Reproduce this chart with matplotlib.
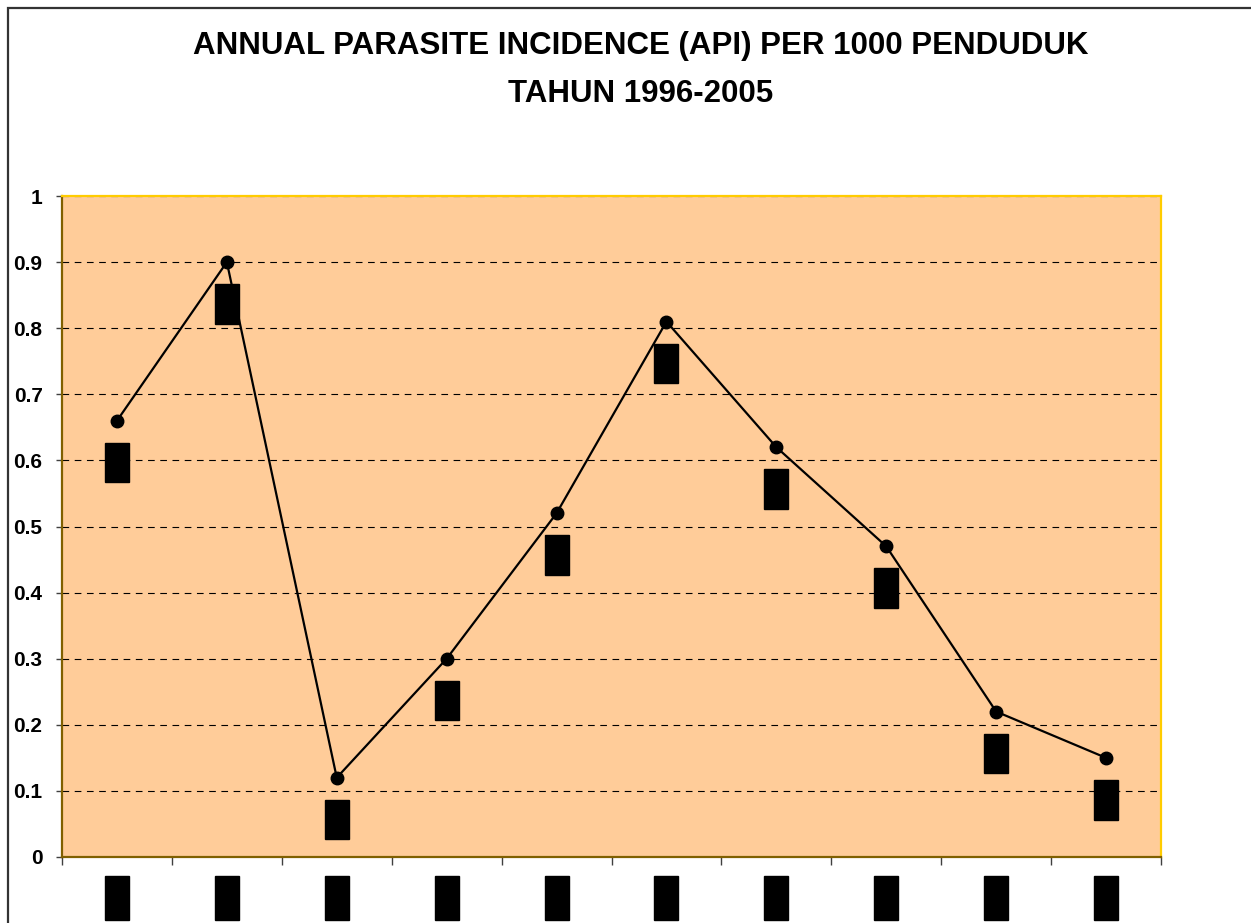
import matplotlib
matplotlib.use("Agg")
from matplotlib import pyplot as plt
from matplotlib.patches import Rectangle

plt.rcParams['font.family'] = ['Liberation Sans', 'DejaVu Sans']

tahun = ['1996', '1997', '1998', '1999', '2000', '2001', '2002', '2003', '2004', '2005']
api = [0.66, 0.90, 0.12, 0.30, 0.52, 0.81, 0.62, 0.47, 0.22, 0.15]
y_ticks = [0, 0.1, 0.2, 0.3, 0.4, 0.5, 0.6, 0.7, 0.8, 0.9, 1]
y_labels = ['0', '0.1', '0.2', '0.3', '0.4', '0.5', '0.6', '0.7', '0.8', '0.9', '1']

fig = plt.figure(figsize=(12.51, 9.23), dpi=100)
ax = fig.add_axes([62 / 1251, 1 - 857 / 923, 1099 / 1251, 661 / 923])
ax.set_facecolor('#FFCC99')

# bingkai chart
fig.patches.append(Rectangle((7.5 / 1251, -0.2), 2.0, 1.2 - 7.5 / 923,
                             transform=fig.transFigure, fill=False,
                             edgecolor='#333333', linewidth=1.6, zorder=0))

kotak = dict(boxstyle='square,pad=0.33', facecolor='black', edgecolor='black')

x = list(range(len(tahun)))
ax.plot(x, api, color='black', linewidth=1.6, marker='o', markersize=9, zorder=3)

# label nilai di bawah titik
for xi, v in zip(x, api):
    ax.annotate(f'{v:.2f}', (xi, v), xytext=(0, -27), textcoords='offset pixels',
                ha='center', va='top', rotation=90, fontsize=11, color='black',
                bbox=kotak, zorder=4)

ax.set_xlim(-0.5, len(tahun) - 0.5)
ax.set_ylim(0, 1)
ax.set_yticks(y_ticks)
ax.set_yticklabels(y_labels, fontsize=15, fontweight='bold')
ax.tick_params(axis='y', length=4, width=1, color='#404040', pad=10)

ax.set_xticks(x)
ax.set_xticklabels(tahun, rotation=90, fontsize=11, color='black')
ax.set_xticks([i - 0.5 for i in range(len(tahun) + 1)], minor=True)
ax.tick_params(axis='x', which='major', length=0, pad=17)
ax.tick_params(axis='x', which='minor', length=6, width=1, color='#404040')
for lbl in ax.get_xticklabels():
    lbl.set_bbox(kotak)
    lbl.set_va('top')

ax.grid(axis='y', color='black', linestyle=(0, (6, 5)), linewidth=0.8)
ax.set_axisbelow(True)

ax.spines['top'].set_color('#FFCC00')
ax.spines['right'].set_color('#FFCC00')
ax.spines['left'].set_color('#806000')
ax.spines['bottom'].set_color('#806000')
for s in ax.spines.values():
    s.set_linewidth(1.6)

fig.text(0.512, 1 - 46 / 923, 'ANNUAL PARASITE INCIDENCE (API) PER 1000 PENDUDUK',
         ha='center', va='center', fontsize=22.5, fontweight='bold')
fig.text(0.512, 1 - 94 / 923, 'TAHUN 1996-2005',
         ha='center', va='center', fontsize=22.5, fontweight='bold')

fig.savefig('out.png', dpi=100)
